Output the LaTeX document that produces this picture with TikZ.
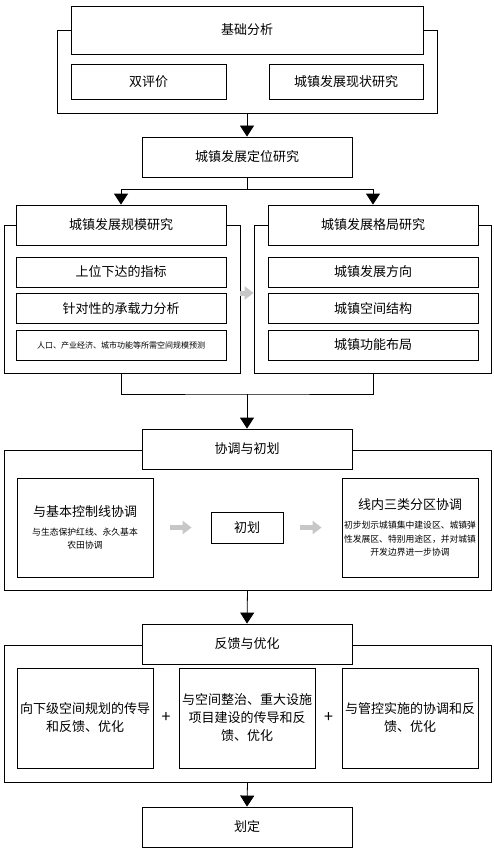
\documentclass[tikz,border=0pt]{standalone}
\usepackage{fontspec}
\setmainfont{Noto Sans CJK SC}
\usetikzlibrary{arrows.meta,positioning,calc}
\newcommand{\smallf}{\fontsize{8.8}{13.5}\selectfont}
\tikzset{
  frame/.style={draw=black,line width=0.8pt,inner sep=0pt},
  box/.style={draw=black,line width=0.8pt,fill=white,align=center,inner sep=0pt,font=\fontsize{13}{18}\selectfont},
  title/.style={box,minimum width=210pt,minimum height=40pt},
  item/.style={box,minimum width=210pt,minimum height=30pt},
  part/.style={box,minimum width=136pt,text width=134pt},
  plus/.style={font=\fontsize{16}{16}\selectfont,inner sep=0pt},
  arrow/.style={-{Triangle[length=11pt,width=14pt]},line width=0.8pt,draw=black},
  grayarrow/.style={-{Triangle[length=9pt,width=13pt]},line width=5pt,draw=black!22}
}

\begin{document}
\begin{tikzpicture}[x=1pt,y=-1pt]
  \useasboundingbox (0,0) rectangle (494,853);

  % basic analysis
  \node (frameA) [frame,minimum width=380pt,minimum height=83pt] at (247,71.5) {};
  \node (jcfx) [box,minimum width=352pt,minimum height=48pt] at (247,30) {基础分析};
  \node (spj) [box,minimum width=155pt,minimum height=35pt] at (148.5,82) {双评价};
  \node (xzyj) [box,minimum width=154pt,minimum height=35pt] at (346,82) {城镇发展现状研究};

  \node (dwyj) [title] at (247,157) {城镇发展定位研究};
  \coordinate (split) at (247,189);

  % scale and pattern
  \node (frameL) [frame,minimum width=236pt,minimum height=148pt] at (122,299) {};
  \node (gmyj) [title] at (121,225) {城镇发展规模研究};
  \node (swxd) [item] at (121,272) {上位下达的指标};
  \node (czlfx) [item] at (121,308.5) {针对性的承载力分析};
  \node (gmyc) [item,font=\fontsize{8}{10}\selectfont] at (121,345) {人口、产业经济、城市功能等所需空间规模预测};

  \node (frameR) [frame,minimum width=237pt,minimum height=148pt] at (372.5,299) {};
  \node (gjyj) [title] at (373,225) {城镇发展格局研究};
  \node (fzfx) [item] at (373,272) {城镇发展方向};
  \node (kjjg) [item] at (373,308.5) {城镇空间结构};
  \node (gnbj) [item] at (373,345) {城镇功能布局};
  \coordinate (merge) at (247,394);

  % coordination
  \node (frameC) [frame,minimum width=487pt,minimum height=140pt] at (247.5,520) {};
  \node (xtcc) [title] at (247,449) {协调与初划};
  \node (jbkz) [part,minimum height=99pt] at (85,527.5) {{\fontsize{13}{18}\selectfont 与基本控制线协调\par}\vspace{5pt}{\smallf 与生态保护红线、永久基本\\农田协调\par}};
  \node (chuhua) [box,minimum width=72pt,minimum height=31pt] at (247,527.5) {初划};
  \node (sanlei) [part,minimum height=99pt] at (410,527.5) {{\fontsize{13}{18}\selectfont 线内三类分区协调\par}\vspace{6pt}{\smallf 初步划示城镇集中建设区、城镇弹\\性发展区、特别用途区，并对城镇\\开发边界进一步协调\par}};

  % feedback
  \node (frameF) [frame,minimum width=487pt,minimum height=137pt] at (247.5,713.5) {};
  \node (fkyh) [title] at (247,644) {反馈与优化};
  \node (xjgh) [part,minimum height=100pt] at (85,718) {向下级空间规划的传导\\和反馈、优化};
  \node (kjzz) [part,minimum height=100pt] at (247,718) {与空间整治、重大设施\\项目建设的传导和反\\馈、优化};
  \node (gkss) [part,minimum height=100pt] at (410,718) {与管控实施的协调和反\\馈、优化};
  \node (plusA) [plus] at ($(xjgh.east)!0.5!(kjzz.west)$) {+};
  \node (plusB) [plus] at ($(kjzz.east)!0.5!(gkss.west)$) {+};

  \node (huading) [title] at (247,827) {划定};

  \draw[arrow] (frameA.south) -- (dwyj.north);
  \draw[line width=0.8pt] (dwyj.south) -- (split);
  \draw[arrow] (split) -| (gmyj.north);
  \draw[arrow] (split) -| (gjyj.north);
  \draw[grayarrow] ([yshift=6pt]frameL.east) -- ([yshift=6pt]frameR.west);
  \draw[line width=0.8pt] (gmyj |- frameL.south) |- (merge) -| (gjyj |- frameR.south);
  \draw[arrow] (merge) -- (xtcc.north);
  \draw[grayarrow,shorten <=17pt,shorten >=19pt] (jbkz.east) -- (chuhua.west);
  \draw[grayarrow,shorten <=17pt,shorten >=20pt] (chuhua.east) -- (sanlei.west);
  \draw[arrow] (frameC.south) -- (fkyh.north);
  \draw[arrow] (frameF.south) -- (huading.north);
\end{tikzpicture}
\end{document}
